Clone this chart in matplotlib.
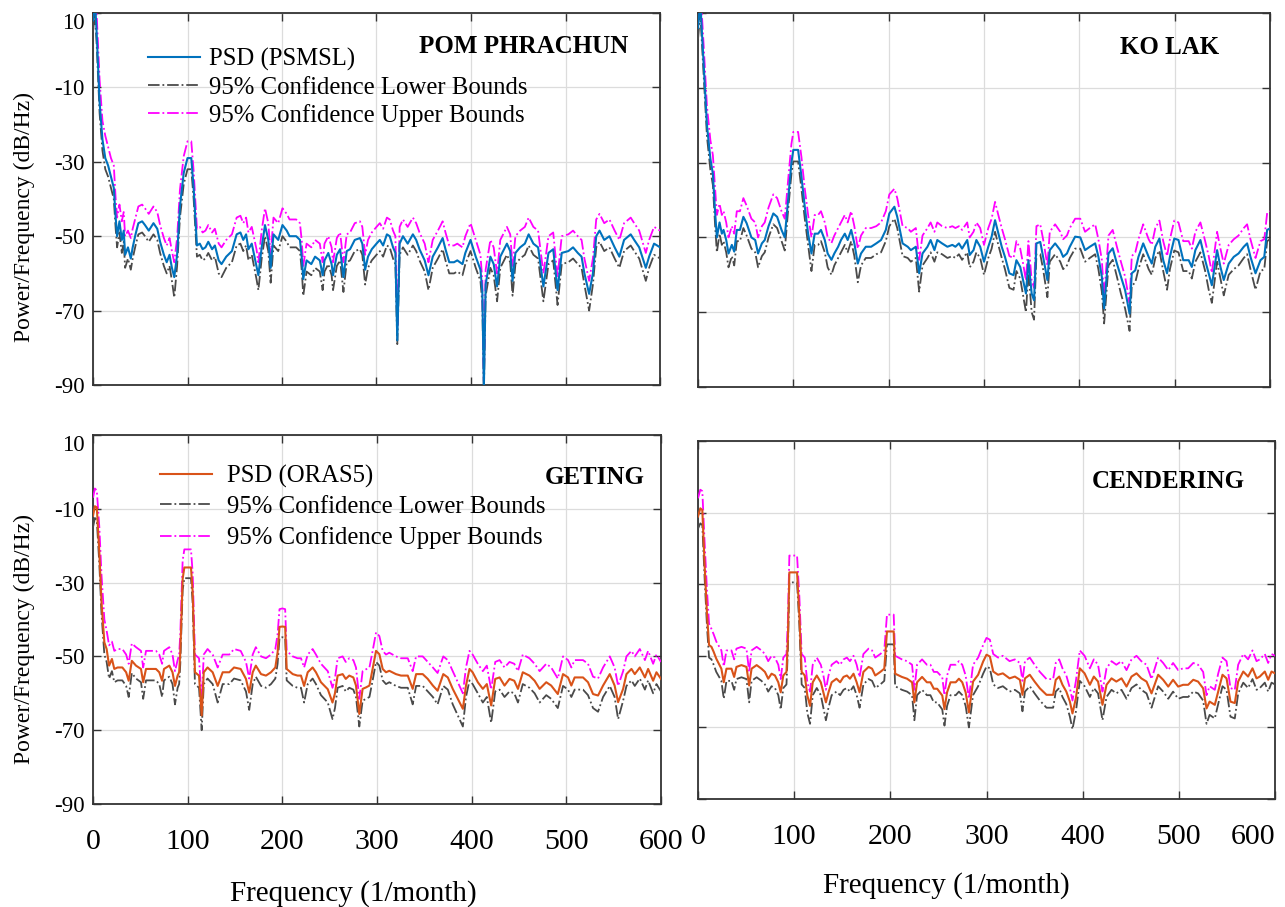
import matplotlib
matplotlib.use("Agg")
import matplotlib.pyplot as plt
from matplotlib.lines import Line2D

plt.rcParams['font.family'] = ['Liberation Serif', 'DejaVu Serif']
plt.rcParams['axes.unicode_minus'] = False

# ---------------- data ----------------
x_ticks = [0, 100, 200, 300, 400, 500, 600]
y_ticks = [10, -10, -30, -50, -70, -90]

# POM PHRACHUN (PSMSL)
pom_freq = [0, 2, 4, 7, 10, 13, 16, 19, 22, 24, 25.5, 28, 30.5, 32.5, 34, 37, 40, 42, 45, 48,
            52, 55, 59, 64, 68, 71, 75, 78, 81, 83.5, 86, 89, 92, 96, 100, 104, 106.5, 110, 113, 116,
            119, 122, 126, 129, 133, 136, 141, 147, 152, 156, 159, 162, 164.5, 168, 173, 175, 178.5, 182, 185.5, 188,
            191, 196, 200.5, 205, 208, 215, 219, 221, 222.5, 226, 231, 235, 240, 243, 245, 249, 252.5, 254, 258, 261.5,
            265, 268.5, 272, 277, 282.5, 285, 288, 291, 295, 300, 303.5, 307, 311, 314, 317.5, 320, 322, 324.5, 328, 333,
            338.5, 342, 345.5, 351, 355, 359.5, 365, 370, 373, 377, 382, 385.5, 391, 394, 399.5, 405, 410, 412, 413.6, 415.5,
            420.5, 424, 427.6, 431, 438, 441.5, 444, 447, 452, 457, 461, 466, 471, 476.6, 482, 487, 491.6, 496, 503, 508,
            513, 517, 520, 525, 529, 532.5, 536, 541, 546.5, 552, 557, 562, 569, 572.7, 578, 585, 588.5, 593.7, 597, 600]
pom_psd = [8, 14, 4, -14, -24, -29, -31, -34, -37, -45, -50, -46, -51, -48.5, -55, -53, -56, -53, -49.5, -46.5,
           -46, -47, -48.5, -46.5, -48, -51.5, -55, -57, -55, -58.5, -61, -55, -42, -33, -29, -29, -37, -52.5, -52, -53.5,
           -53, -51.5, -53.5, -52.5, -56.5, -57.5, -55.5, -54, -49.5, -49, -51, -49.5, -53.5, -52, -58, -60.5, -53, -47, -51, -58.5,
           -49.5, -51, -47, -48.5, -50, -50, -51, -56, -61.5, -56.5, -57.5, -55.5, -56.5, -60.5, -56.5, -54.5, -57.5, -60.5, -55, -53.5,
           -61, -54, -53.5, -51, -50.5, -52, -59, -55.5, -53.5, -52, -51, -52.5, -49.5, -50, -53, -54.5, -78, -52, -50, -52,
           -49.5, -51, -53.5, -56.5, -60.5, -55.5, -53, -50.5, -53.5, -57, -57, -56.5, -57.5, -54.5, -51, -55.5, -59, -65, -91, -63,
           -55.5, -57.5, -63.5, -55.5, -52, -54, -62, -54.5, -53, -52, -49.5, -52, -53, -63.5, -54.5, -53.5, -64.5, -54.5, -54, -53,
           -54.5, -55.5, -60, -65.5, -60, -50, -48.5, -51, -50, -53, -55.5, -51, -49.5, -51, -53, -58.5, -55.5, -52, -52.5, -53]
pom_upper = [12, 18, 9, -8, -19, -23, -26, -29, -31, -40, -45, -41.5, -46, -43.5, -50, -48.5, -50.5, -48, -45, -42,
             -41.5, -42.5, -44, -42, -43.5, -47, -50.5, -52.5, -50.5, -54, -57, -50.5, -37.5, -28.5, -24.5, -24.5, -32.5, -48, -47.5, -49,
             -48.5, -47, -49, -48, -52, -53, -51, -49.5, -45, -44.5, -46.5, -45, -49, -47.5, -53.5, -57, -48.5, -42.5, -46.5, -55,
             -45, -46.5, -42.5, -44, -45.5, -45.5, -46.5, -51.5, -58, -52, -53, -51, -52, -57, -52, -50, -53, -57, -50.5, -49,
             -57, -49.5, -49, -46.5, -46, -47.5, -55, -51, -49, -47.5, -46.5, -48, -45, -45.5, -48.5, -50, -74, -47.5, -45.5, -47.5,
             -45, -46.5, -49, -52, -57, -51, -48.5, -46, -49, -52.5, -52.5, -52, -53, -50, -46.5, -51, -55, -62, -89, -59,
             -51, -53, -60, -51, -47.5, -49.5, -58, -50, -48.5, -47.5, -45, -47.5, -48.5, -60, -50, -49, -61, -50, -49.5, -48.5,
             -50, -51, -56, -62, -56, -45.5, -44, -46.5, -45.5, -48.5, -51, -46.5, -45, -46.5, -48.5, -54.5, -51, -47.5, -48, -48.5]
pom_lower = [5, 10, 1, -17, -27, -32, -34, -37, -40, -48, -53, -49, -54.5, -51.5, -58.5, -56, -59, -56, -52.5, -49.5,
             -49, -50, -51.5, -49.5, -51, -54.5, -58, -60, -58, -62, -66.5, -58, -45, -36, -32, -32, -40, -55.5, -55, -56.5,
             -56, -54.5, -56.5, -55.5, -60, -61, -58.5, -57, -52.5, -52, -54, -52.5, -56.5, -55, -61.5, -64.5, -56, -50, -54, -62.5,
             -52.5, -54, -50, -51.5, -53, -53, -54, -59.5, -66, -59.5, -60.5, -58.5, -59.5, -64.5, -59.5, -57.5, -60.5, -64.5, -58, -56.5,
             -65, -57, -56.5, -54, -53.5, -55, -63, -58.5, -56.5, -55, -54, -55.5, -52.5, -53, -56, -57.5, -79, -55, -53, -55,
             -52.5, -54, -56.5, -59.5, -64.5, -58.5, -56, -53.5, -56.5, -60, -60, -59.5, -60.5, -57.5, -54, -58.5, -62, -68, -92, -66,
             -58.5, -60.5, -67.5, -58.5, -55, -57, -66, -57.5, -56, -55, -52.5, -55, -56, -67.5, -57.5, -56.5, -68.5, -57.5, -57, -56,
             -57.5, -58.5, -63, -70, -63, -53, -51.5, -54, -53, -56, -58.5, -54, -52.5, -54, -56, -62, -58.5, -55, -55.5, -56]

# KO LAK (PSMSL)
kol_freq = [0, 2.4, 6, 9.4, 13, 15.6, 18, 19.8, 22.6, 25, 26.8, 29.6, 32, 35.5, 38, 40.7, 44, 47.6, 51, 56,
            60, 63, 67, 70, 74, 79, 83, 87.6, 91, 94.6, 98, 100, 105, 108.5, 112, 115.5, 119, 122.4, 126, 129,
            133, 136, 140, 143, 147, 150, 154, 157, 160.7, 164, 167.6, 171, 176, 181.6, 187, 192, 197, 200.7, 206, 209,
            214.6, 220, 223.3, 228.5, 232, 235.5, 240.7, 244, 248, 251, 256, 261.6, 266.8, 270, 273.7, 277, 282.4, 285, 289, 292,
            296, 300, 304.5, 308, 311.6, 315, 318.6, 322, 326.6, 331, 334, 338, 341, 344, 346.6, 350, 352.5, 355, 359, 362,
            366.5, 369, 374.6, 380, 383, 387, 390, 395.6, 401, 406, 411, 416.6, 420, 423.6, 426, 430.6, 435, 439.4, 443.6, 448,
            452.7, 455, 458.7, 462, 467, 472.7, 476, 479.7, 484, 488, 492, 495, 499.6, 504, 509, 514.7, 518, 521.7, 527, 532,
            535.7, 539, 544.5, 548, 551.5, 556.7, 562, 567, 572.5, 576, 579.5, 584.8, 590, 594, 597, 600]
kol_psd = [6, 13, -4, -20, -29, -33, -43.5, -50, -46, -49, -48, -50.7, -54.3, -52, -53.8, -48, -48, -44.5, -46.2, -50,
           -50.7, -54.3, -51.6, -50.7, -47, -43.6, -44.5, -48, -50, -39.6, -30, -26.6, -26.6, -33.7, -41.8, -49, -54.3, -49, -49, -48,
           -50.7, -54.3, -56, -54.3, -52.5, -50.7, -49, -50.7, -48, -51.6, -57, -54.3, -52.5, -52.5, -51.6, -50.7, -48, -43.6, -41.8, -44.5,
           -51.6, -52.5, -53.4, -52.5, -59.6, -54.3, -52.5, -50.7, -53.4, -50.7, -51.6, -52.5, -52, -52.5, -51.6, -53, -50.7, -54.7, -53.4, -50.7,
           -52.5, -56.5, -52.5, -49.8, -45.4, -48.9, -52.5, -55.2, -59.6, -60.1, -56.1, -57.9, -61.4, -65, -56.1, -65, -66.8, -51.6, -51.2, -55.2,
           -61.4, -53.4, -51.6, -53.4, -55.2, -54.3, -52.5, -49.8, -50, -53.4, -52.5, -51.6, -55.2, -60.5, -69, -54.3, -52.9, -57, -60.5, -64.1,
           -70.4, -59.6, -58.8, -55.2, -51.6, -55.2, -57, -52.5, -50.3, -56.1, -59.6, -55.2, -50.3, -50.7, -56.1, -56.1, -57.9, -53.4, -50.7, -56.1,
           -59.6, -62.8, -53.4, -57.9, -61.4, -57, -55.2, -54.3, -52.5, -51.6, -55.2, -59.6, -56.1, -55.2, -48, -47.6]
kol_upper = [10, 17, 1, -15, -24, -28, -37, -44, -41, -44, -43, -46, -50, -47, -49, -43, -43, -39.5, -41.5, -45,
             -46, -50, -47, -46, -42, -38.5, -39.5, -43, -45, -34.5, -25, -21.8, -21.8, -28.5, -37, -44, -50, -44, -44, -43,
             -46, -50, -51.5, -49.5, -47.5, -46, -44, -46, -43, -47, -53, -49.5, -47.5, -47.5, -47, -46, -43, -38.5, -37, -39.5,
             -47, -47.5, -48.5, -47.5, -56, -49.5, -47.5, -46, -48.5, -46, -47, -47.5, -47, -47.5, -47, -48, -46, -50, -48.5, -46,
             -47.5, -52, -47.5, -45, -40.5, -44, -47.5, -50.5, -55, -55.5, -51, -53, -57, -61.5, -51, -61.5, -63.5, -47, -46.5, -50.5,
             -57.5, -48.5, -46.5, -48.5, -50.5, -49.5, -47.5, -45, -45, -48.5, -47.5, -46.5, -50.5, -56, -66, -49.5, -48, -52.5, -56.5, -60.5,
             -67.5, -55, -54, -50.5, -46.5, -50.5, -52, -47.5, -45.5, -51, -55, -50.5, -45.5, -46, -51, -51, -53, -48.5, -46, -51,
             -55, -59.5, -48.5, -53, -57, -52, -50.5, -49.5, -47.5, -46.5, -50.5, -55.5, -51, -50.5, -43.5, -43]
kol_lower = [3, 10, -7, -23, -32, -36, -47, -54, -49, -52, -51, -54, -58, -55, -57.5, -51, -51, -47.5, -49.5, -53,
             -54, -58, -55, -54, -50, -46.5, -47.5, -51, -53.5, -42.5, -33, -29.7, -29.7, -37, -45, -52, -59, -52, -52, -51,
             -54, -58, -60, -57.5, -55.5, -54, -52, -54, -51, -55, -62, -57.5, -55.5, -55.5, -54.5, -54, -51, -47, -45, -47.5,
             -55, -55.5, -56.5, -55.5, -64.5, -57.5, -55.5, -54, -56.5, -54, -54.5, -55.5, -55, -55.5, -54.5, -56, -54, -58, -56.5, -54,
             -55.5, -60, -55.5, -53, -48.5, -52, -55.5, -58.5, -63.5, -64, -59, -61, -65.5, -70, -59, -70, -72, -54.5, -54.5, -58.5,
             -66, -56.5, -54.5, -56.5, -58.5, -57.5, -55.5, -53, -53, -56.5, -55.5, -54.5, -58.5, -64.5, -73, -57.5, -56, -60.5, -65, -69,
             -75, -63, -62, -58.5, -54.5, -58.5, -60, -55.5, -53.5, -59, -64, -58.5, -53.5, -54, -59, -59, -61, -56.5, -54, -59,
             -64, -67.5, -56.5, -61, -65.5, -60, -58.5, -57.5, -55.5, -54.5, -58.5, -64, -59, -58.5, -51, -50.5]

# GETING (ORAS5)
get_freq = [0, 2, 4, 6.7, 9, 12, 14.4, 17, 20, 22.5, 26, 31, 35, 37.7, 41, 45.4, 50.7, 53, 56, 66.5,
            70, 73, 75, 80.6, 84, 86.6, 89.4, 91, 92.2, 94.7, 96.5, 103.5, 105.3, 107.7, 112, 114.8, 117, 121, 126.4, 131.7,
            137, 144, 149, 156, 161.6, 165, 168.7, 172, 177.5, 182.7, 188, 192.6, 195, 197, 200, 203, 204.6, 211, 216, 219.7,
            223, 226.8, 232, 235.5, 240.8, 248, 253, 255.6, 258.4, 263.7, 267, 270.7, 275, 277.8, 281.3, 284.8, 288.4, 292, 295.4, 299,
            302.5, 306, 309.5, 313, 320, 325.4, 332.5, 337.7, 341.3, 348.3, 353.6, 359, 364, 370, 374.8, 380, 385.4, 390.7, 394, 397.7,
            401, 406.5, 411.8, 416, 420.6, 424.9, 429.5, 434.7, 440, 445, 448.9, 454, 461, 466.5, 471.8, 478.8, 484, 491, 496.5, 501.8,
            505.3, 508.8, 517.6, 522.9, 528.2, 533.5, 538.8, 545.9, 551, 554.7, 560, 563.5, 568.8, 572.3, 577.6, 583, 586.4, 591.7, 595.2, 600]
get_psd = [-11.9, -9.3, -9.6, -21.8, -35.4, -46.2, -48, -52.5, -50.7, -53.4, -53, -53, -54.3, -56.6, -51.2, -52.5, -53.4, -57, -53.4, -53.4,
           -54.3, -56.6, -53.4, -52.5, -54.3, -58, -55.2, -54.3, -49, -29, -25.9, -25.9, -32.6, -54.3, -55.2, -66, -54.3, -53, -54.3, -58,
           -54.3, -54.3, -53, -53.4, -56.1, -59.8, -54.3, -52.5, -54.8, -55.2, -54.3, -53, -48.9, -42, -41.9, -42, -53.4, -54.8, -55.2, -55.2,
           -58, -54.3, -53, -54.3, -57, -58.9, -62.5, -60, -55.2, -54.8, -56.1, -55.2, -55.7, -57.9, -65.6, -58.8, -58.4, -57.9, -53.4, -48.5,
           -49.4, -53.4, -54.3, -53.9, -54.8, -55.2, -55.2, -58.8, -54.8, -54.8, -56.1, -57.9, -59.3, -54.8, -55.7, -58.8, -61.5, -64.2, -57.9, -53.4,
           -54.3, -57, -58.8, -57.5, -63.3, -56.1, -55.7, -57.9, -56.1, -56.6, -58.8, -54.3, -55.2, -56.6, -58.8, -57, -57.9, -60.2, -54.8, -55.7,
           -57.9, -55.7, -55.7, -57, -60.2, -60.6, -57.9, -54.8, -57.9, -62.4, -58.8, -54.8, -53.4, -54.8, -53, -55.7, -53.4, -56.6, -54.3, -56.1]
get_upper = [-7, -4.5, -5, -15, -28, -40, -43, -47, -46, -48.5, -48, -48, -49.5, -52, -46.5, -47.5, -48.5, -53, -48.5, -48.5,
             -49.5, -52, -48.5, -47.5, -49.5, -54, -51, -49.5, -44, -24, -21, -21, -27.5, -49.5, -50.5, -62, -49.5, -48, -49.5, -53,
             -49.5, -49.5, -48, -48.5, -51.5, -56, -49.5, -47.5, -50, -50.5, -49.5, -48, -44, -37.2, -37, -37.2, -48.5, -50, -50.5, -50.5,
             -53, -49.5, -48, -49.5, -52, -54, -58.5, -56, -50.5, -50, -51.5, -50.5, -51, -53, -61.5, -54, -53.5, -53, -48.5, -43.5,
             -44.5, -48.5, -49.5, -49, -50, -50.5, -50.5, -54, -50, -50, -51.5, -53, -54.5, -50, -51, -54, -57, -60, -53, -48.5,
             -49.5, -52, -54, -52.5, -59, -51.5, -51, -53, -51.5, -52, -54, -49.5, -50.5, -52, -54, -52, -53, -56, -50, -51,
             -53, -51, -51, -52, -55.5, -56, -53, -50, -53, -58, -54, -50, -48.5, -50, -48, -51, -48.5, -52, -49.5, -51.5]
get_lower = [-15, -12.5, -13, -25, -38.5, -49.5, -51.5, -56, -54, -57, -56.5, -56.5, -58, -61, -54.5, -56, -57, -61.5, -56.5, -56.5,
             -57.5, -61, -56.5, -55.5, -57.5, -63, -58.5, -57.5, -52, -32, -28.8, -28.8, -35.5, -57.5, -58.5, -70, -57.5, -56, -57.5, -62.5,
             -57.5, -57.5, -56, -56.5, -59.5, -64.5, -57.5, -55.5, -58, -58.5, -57.5, -56, -52, -45, -44.8, -45, -56.5, -58, -58.5, -58.5,
             -62.5, -57.5, -56, -57.5, -60.5, -62.5, -67, -64, -58.5, -58, -59.5, -58.5, -59, -61, -69, -62, -61.5, -61, -56.5, -51.5,
             -52.5, -56.5, -57.5, -57, -58, -58.5, -58.5, -63, -58, -58, -59.5, -61, -63, -58, -59, -63, -66, -69, -61, -56.5,
             -57.5, -60, -62.5, -61, -68, -59.5, -59, -61, -59.5, -60, -62.5, -57.5, -58.5, -60, -62.5, -60.5, -61.5, -64, -58, -59,
             -61, -59, -59, -60.5, -64, -65, -61, -58, -61, -67, -62, -58, -56.5, -58, -56, -59, -56.5, -60, -57.5, -59.5]

# CENDERING (ORAS5)
cen_freq = [0, 2.4, 4.5, 7, 9.4, 11.5, 14, 16.3, 19, 24.3, 26.8, 29.6, 34.8, 37.6, 40, 45.2, 50.4, 53.2, 55.7, 61,
            66, 69.6, 73, 76.5, 80, 83.5, 86, 88.7, 92, 93.5, 95, 103, 105.4, 107.8, 111, 113.7, 116.5, 119.3, 123.5, 127.7,
            130.4, 133, 135.7, 139, 144, 147.8, 151.3, 154.8, 158, 161.7, 165, 168, 172, 177.4, 181, 184.3, 189.6, 193.7, 196.5, 203.5,
            205, 212, 217.4, 222.6, 225, 227.8, 233, 238, 241.7, 245.2, 248.7, 254, 256.3, 259, 262.6, 268, 271.3, 274.8, 278.3, 281.7,
            286, 291.3, 296.5, 300, 303.5, 307, 312, 317, 324, 329.5, 334.7, 337.4, 340, 345, 350, 355.5, 362.4, 369.3, 372, 375.6,
            379, 383, 386.7, 389.4, 393, 397, 402, 407.5, 411.6, 416, 420.6, 424.8, 430, 435, 440.4, 445.6, 450.8, 456, 461, 466.4,
            471.6, 478.5, 483.7, 489, 494, 499.3, 504.5, 509.7, 515, 520, 525.3, 528.8, 532, 537.4, 540.9, 545.4, 549.6, 553.7, 558.2, 561.7,
            567, 572, 576.6, 580.8, 584.2, 589.4, 592.9, 596.4, 600]
cen_psd = [-11.1, -8.8, -9.3, -25.3, -38.5, -47, -47.5, -48.9, -50.8, -53.6, -57.4, -53.6, -53.6, -55.9, -53.1, -52.6, -53.1, -58.3, -53.6, -52.6,
           -53.6, -54.5, -56.4, -55, -55.5, -57.4, -60.2, -55.5, -54.5, -45, -26.7, -26.7, -38.5, -54.5, -55.5, -61.1, -64, -57.4, -55.5, -57.4,
           -60.2, -63, -60.2, -57.4, -56.4, -57.4, -55.9, -55.5, -56.4, -55, -57.4, -60.2, -54.5, -53.1, -53.6, -55.5, -54.5, -53.6, -43.2, -43.2,
           -55, -55.9, -56.4, -57.4, -63, -57.4, -55.9, -57.4, -57.4, -59.2, -59.2, -61.1, -64.9, -60.2, -57.4, -57.4, -56.4, -57.4, -60.2, -65.8,
           -57.2, -55.3, -51.6, -49.7, -50.2, -54.4, -55.3, -54.9, -56.3, -55.8, -56.7, -60.9, -56.3, -55.3, -57.2, -59.1, -60.9, -60.9, -56.7, -55.8,
           -58.1, -60, -62.8, -66.1, -61.8, -53.5, -54.9, -58.1, -55.8, -57.2, -63.7, -58.1, -56.3, -57.2, -56.3, -58.6, -55.8, -54.9, -56.3, -57.2,
           -60.5, -55.3, -56.7, -58.6, -56.7, -58.6, -58.1, -58.1, -56.7, -57.2, -59.1, -64.7, -62.8, -63.7, -60, -55.3, -56.3, -62.8, -63.2, -57.2,
           -54.4, -55.8, -53.5, -56.3, -55.8, -54.4, -56.7, -54.4, -54.9]
cen_upper = [-6, -3.6, -4, -19, -32, -41, -42.5, -44, -46, -48.5, -53, -48.5, -48.5, -51, -48, -47.5, -48, -54.5, -48.5, -47.5,
             -48.5, -49.5, -51.5, -50, -50.5, -52.5, -56.5, -50.5, -49.5, -40, -22, -22, -33.5, -49.5, -50.5, -57.5, -60, -52.5, -50.5, -52.5,
             -55.5, -59.5, -55.5, -52.5, -51.5, -52.5, -51, -50.5, -51.5, -50, -52.5, -56, -49.5, -48, -48.5, -50.5, -49.5, -48.5, -38.5, -38.5,
             -50, -51, -51.5, -52.5, -59.5, -52.5, -51, -52.5, -52.5, -54.5, -54.5, -56, -61, -55.5, -52.5, -52.5, -51.5, -52.5, -55.5, -62,
             -52.5, -50.5, -47, -45, -45.5, -49.5, -50.5, -50, -51.5, -51, -52, -57, -51.5, -50.5, -52.5, -54.5, -56.5, -56.5, -52, -51,
             -53.5, -55.5, -59, -62.5, -57, -48.5, -50, -53.5, -51, -52.5, -60, -53.5, -51.5, -52.5, -51.5, -54, -51, -50, -51.5, -52.5,
             -56.5, -50.5, -52, -54, -52, -54, -53.5, -53.5, -52, -52.5, -54.5, -61, -58.5, -59.5, -55, -50.5, -51.5, -59, -59.5, -52.5,
             -49.5, -51, -48.5, -51.5, -51, -49.5, -52, -49.5, -50]
cen_lower = [-14.5, -13, -13.5, -29, -42, -50.5, -51, -52.5, -54.5, -57, -62, -57, -57, -59.5, -56.5, -56, -56.5, -63, -57, -56,
             -57, -58, -60, -58.5, -59, -61, -65, -59, -58, -48, -29.5, -29.5, -41.5, -58, -59, -66, -69, -61, -59, -61,
             -64.5, -68, -64.5, -61, -60, -61, -59.5, -59, -60, -58.5, -61, -64.5, -58, -56.5, -57, -59, -58, -57, -46.8, -46.8,
             -58.5, -59.5, -60, -61, -68, -61, -59.5, -61, -61, -63, -63, -65, -69.5, -64, -61, -61, -60, -61, -64, -70,
             -61, -58.5, -55, -53, -53.5, -58, -59, -58.5, -60, -59.5, -60.5, -65.5, -60, -58.5, -60.5, -62.5, -64.5, -64.5, -60, -59,
             -61.5, -63.5, -67, -70.5, -65.5, -57, -58.5, -61.5, -59, -60.5, -68, -61.5, -59.5, -60.5, -59.5, -62, -59, -58, -59.5, -60.5,
             -64.5, -58.5, -60, -62, -60, -62, -61.5, -61.5, -60, -60.5, -62.5, -69, -66.5, -67.5, -63.5, -58.5, -59.5, -67, -67.5, -60.5,
             -57.5, -59, -56.5, -59.5, -59, -57.5, -60, -57.5, -58]

# ---------------- styling ----------------
C_BLUE = '#0072BD'
C_ORANGE = '#D95319'
C_MAG = '#FF00FF'
C_GRAY = '#4a4a4a'

fig = plt.figure(figsize=(12.85, 9.07), dpi=100)

W, H = 1285.0, 907.0
def axes_px(l, t, r, b):
    return fig.add_axes([l / W, 1 - b / H, (r - l) / W, (b - t) / H])

ax_tl = axes_px(93, 13, 660, 385)
ax_tr = axes_px(698, 13, 1270, 387)
ax_bl = axes_px(93, 435, 661, 804)
ax_br = axes_px(698, 441, 1275, 799)

panels = [
    (ax_tl, pom_freq, pom_psd, pom_lower, pom_upper, C_BLUE, 'POM PHRACHUN', (0.76, 0.909), True, False),
    (ax_tr, kol_freq, kol_psd, kol_lower, kol_upper, C_BLUE, 'KO LAK', (0.825, 0.909), False, False),
    (ax_bl, get_freq, get_psd, get_lower, get_upper, C_ORANGE, 'GETING', (0.884, 0.886), True, True),
    (ax_br, cen_freq, cen_psd, cen_lower, cen_upper, C_ORANGE, 'CENDERING', (0.815, 0.888), False, True),
]

for ax, fr, psd, lo, up, col, title, tpos, show_y, show_x in panels:
    n = min(len(fr), len(psd), len(lo), len(up))
    ax.plot(fr[:n], psd[:n], color=col, lw=1.5, zorder=4)
    ax.plot(fr[:n], lo[:n], color=C_GRAY, lw=1.3, ls='-.', zorder=3)
    ax.plot(fr[:n], up[:n], color=C_MAG, lw=1.3, ls='-.', zorder=3)
    ax.set_xlim(0, 600)
    ax.set_ylim(-90, 10)
    ax.set_xticks(x_ticks)
    ax.set_yticks(y_ticks)
    ax.grid(True, color='#dcdcdc', lw=0.9)
    ax.set_axisbelow(True)
    ax.tick_params(direction='in', length=6, width=1.0, top=True, right=True, color='#333333')
    ax.tick_params(axis='y', labelsize=16.5, pad=6, labelleft=show_y)
    ax.tick_params(axis='x', labelsize=21.5, pad=18, labelbottom=show_x)
    for s in ax.spines.values():
        s.set_color('#333333')
        s.set_linewidth(1.3)
    ax.text(tpos[0], tpos[1], title, transform=ax.transAxes, ha='center', va='center',
            fontsize=18, fontweight='bold')
    if show_y:
        ax.set_ylabel('Power/Frequency (dB/Hz)', fontsize=17)
        ax.yaxis.get_major_ticks()[0].label1.set_verticalalignment('top')
    if show_x:
        ax.set_xlabel('Frequency (1/month)', fontsize=21)

ax_tl.yaxis.set_label_coords(-0.102, 0.452)
ax_bl.yaxis.set_label_coords(-0.102, 0.447)
ax_bl.xaxis.set_label_coords(0.458, -0.205)
ax_br.xaxis.set_label_coords(0.43, -0.205)

ax_br.xaxis.get_major_ticks()[-1].label1.set_horizontalalignment('right')

def add_legend(ax, col, name, anchor, tpad, lspace):
    handles = [Line2D([], [], color=col, lw=1.5),
               Line2D([], [], color=C_GRAY, lw=1.3, ls='-.'),
               Line2D([], [], color=C_MAG, lw=1.3, ls='-.')]
    labels = [name, '95% Confidence Lower Bounds', '95% Confidence Upper Bounds']
    ax.legend(handles, labels, loc='upper left', bbox_to_anchor=anchor, frameon=False,
              fontsize=17.8, handlelength=2.1, handletextpad=tpad, labelspacing=lspace,
              borderpad=0, borderaxespad=0)

add_legend(ax_tl, C_BLUE, 'PSD (PSMSL)', (0.097, 0.905), 0.35, 0.2)
add_legend(ax_bl, C_ORANGE, 'PSD (ORAS5)', (0.118, 0.92), 0.6, 0.33)

fig.savefig('out.png', dpi=100)
